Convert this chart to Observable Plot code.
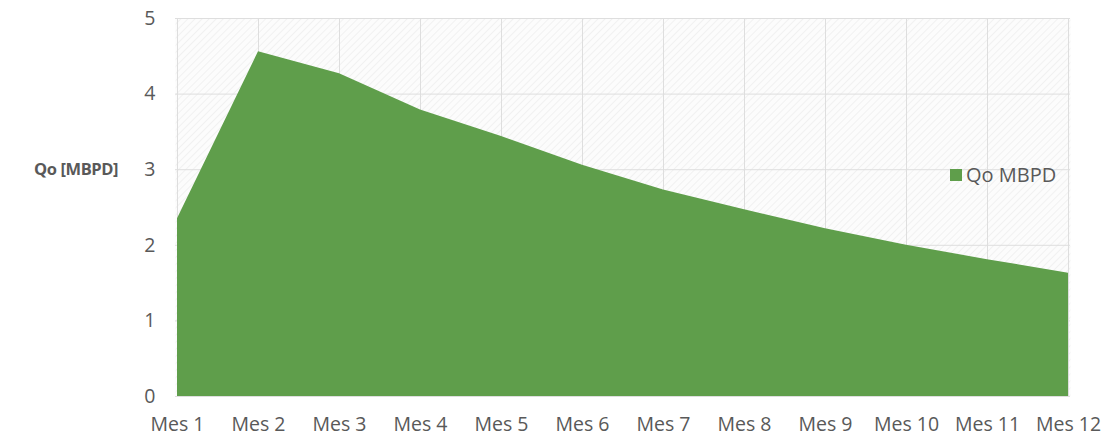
<!DOCTYPE html>
<html>
<head>
<meta charset="utf-8">
<script src="https://cdn.jsdelivr.net/npm/d3@7"></script>
<script src="https://cdn.jsdelivr.net/npm/@observablehq/plot@0.6"></script>
<style>
  html, body { margin: 0; padding: 0; background: #ffffff; }
  #wrap { position: relative; width: 1110px; height: 441px; font-family: "Open Sans", sans-serif; color: #595959; }
  #ylabel { position: absolute; left: 34px; top: 157px; font-size: 16.5px; letter-spacing: -0.4px; font-weight: bold; white-space: nowrap; }
  #legend { position: absolute; left: 950px; top: 161px; font-size: 20px; display: flex; align-items: center; white-space: nowrap; }
  #legend .sw { width: 12px; height: 12px; margin-right: 4px; }
</style>
</head>
<body>
<div id="wrap">
  <div id="chart"></div>
  <div id="ylabel">Qo [MBPD]</div>
  <div id="legend"><span class="sw"></span><span>Qo MBPD</span></div>
</div>
<script>
// Monthly oil rate, thousand barrels per day
const months = ["Mes 1", "Mes 2", "Mes 3", "Mes 4", "Mes 5", "Mes 6", "Mes 7", "Mes 8", "Mes 9", "Mes 10", "Mes 11", "Mes 12"];
const qo = [2.35, 4.56, 4.27, 3.79, 3.44, 3.06, 2.73, 2.47, 2.22, 2.00, 1.81, 1.63];
const yTicks = [0, 1, 2, 3, 4, 5];
const seriesName = "Qo MBPD";
const green = "#5f9e4b";

const data = months.map((m, i) => ({mes: m, qo: qo[i]}));

const chart = Plot.plot({
  width: 1110,
  height: 441,
  marginLeft: 175,
  marginRight: 40,
  marginTop: 18,
  marginBottom: 45,
  style: {fontFamily: "Open Sans, sans-serif", fontSize: "19px", color: "#595959", background: "#ffffff"},
  x: {type: "point", domain: months, padding: 0, label: null},
  y: {domain: [0, 5], ticks: yTicks, tickFormat: "d", label: null},
  marks: [
    Plot.frame({fill: "url(#hatch)", stroke: null}),
    Plot.gridX({stroke: "#dedede", strokeOpacity: 1}),
    Plot.gridY(yTicks, {stroke: "#dedede", strokeOpacity: 1}),
    Plot.areaY(data, {x: "mes", y: "qo", fill: green}),
    Plot.axisX({tickSize: 0, tickPadding: 21, fontSize: 19.5}),
    Plot.axisY(yTicks, {tickSize: 0, tickPadding: 20, fontSize: 19.5, tickFormat: "d"})
  ]
});

// faint diagonal hatching behind the plot area
const ns = "http://www.w3.org/2000/svg";
const defs = document.createElementNS(ns, "defs");
defs.innerHTML = '<pattern id="hatch" patternUnits="userSpaceOnUse" width="5" height="5" patternTransform="rotate(45)">' +
  '<rect width="5" height="5" fill="#fcfcfc"/><line x1="0" y1="0" x2="0" y2="5" stroke="#f1f1f1" stroke-width="2"/></pattern>';
chart.insertBefore(defs, chart.firstChild);

document.getElementById("chart").appendChild(chart);
document.querySelector("#legend .sw").style.background = green;
document.querySelector("#legend span:last-child").textContent = seriesName;
</script>
</body>
</html>
